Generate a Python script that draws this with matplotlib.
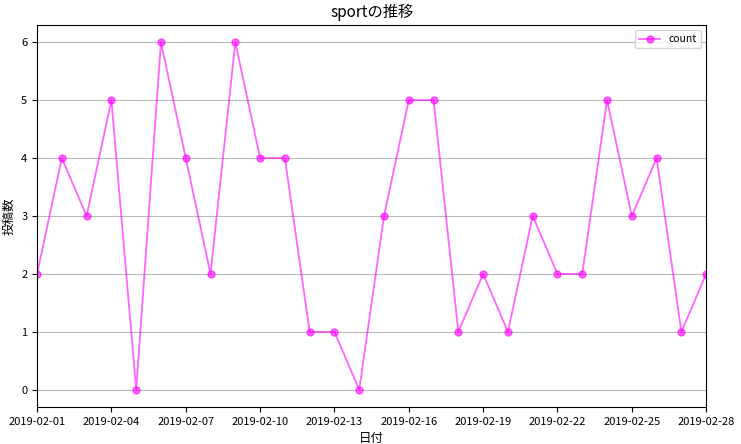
import datetime
import matplotlib
matplotlib.use('Agg')
import matplotlib.pyplot as plt
import matplotlib.dates as mdates

plt.rcParams['font.family'] = ['Noto Sans CJK JP', 'DejaVu Sans']

# データ
dates = [datetime.date(2019, 2, d) for d in range(1, 29)]
counts = [2, 4, 3, 5, 0, 6, 4, 2, 6, 4, 4, 1, 1, 0, 3, 5, 5, 1, 2, 1, 3, 2, 2, 5, 3, 4, 1, 2]
tick_dates = dates[::3]

fig, ax = plt.subplots(figsize=(7.41, 4.44), dpi=100)
fig.subplots_adjust(left=0.05, right=0.953, top=0.944, bottom=0.083)

ax.plot(dates, counts, color='magenta', alpha=0.6, marker='o', markersize=5,
        linewidth=1.3, label='count')

ax.set_xlim(dates[0], dates[-1])
ax.set_xticks(tick_dates)
ax.xaxis.set_major_formatter(mdates.DateFormatter('%Y-%m-%d'))
ax.set_ylim(-0.3, 6.3)
ax.set_yticks(range(0, 7))
ax.tick_params(labelsize=8)
ax.yaxis.grid(True, color='#bbbbbb', linewidth=0.8)

ax.set_title('sportの推移', fontsize=11)
ax.set_xlabel('日付', fontsize=9)
ax.set_ylabel('投稿数', fontsize=9)
ax.legend(loc='upper right', fontsize=7.5)

fig.savefig('out.png', dpi=100)
